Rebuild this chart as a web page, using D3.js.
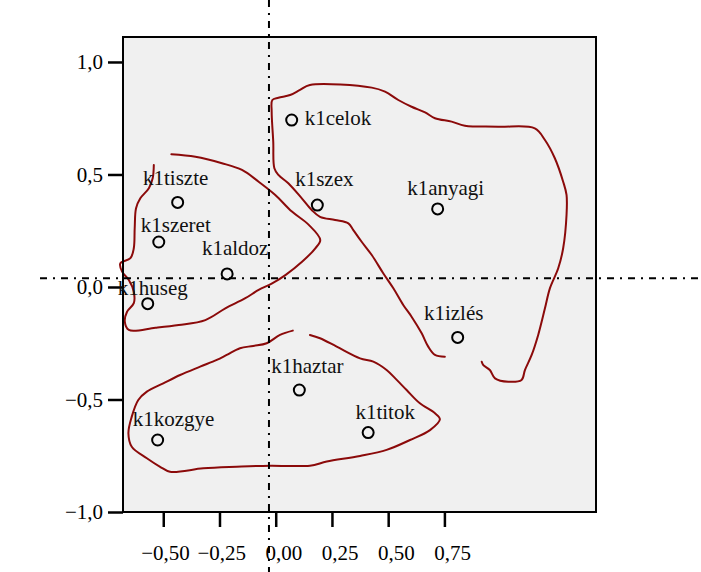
<!DOCTYPE html>
<html>
<head>
<meta charset="utf-8">
<script src="https://cdn.jsdelivr.net/npm/d3@7"></script>
<style>
  html, body { margin: 0; padding: 0; background: #fff; }
  svg { display: block; }
  text { font-family: "Liberation Serif", "Times New Roman", serif; }
</style>
</head>
<body>
<svg id="chart" width="701" height="572"></svg>
<script>
// Variable names and their two-dimensional coordinates
const labels = ["k1celok", "k1szex", "k1anyagi", "k1izlés", "k1haztar", "k1titok",
                "k1kozgye", "k1tiszte", "k1szeret", "k1aldoz", "k1huseg"];
const dim1 = [0.071, 0.185, 0.720, 0.809, 0.105, 0.411, -0.525, -0.436, -0.520, -0.216, -0.569];
const dim2 = [0.742, 0.364, 0.347, -0.224, -0.458, -0.647, -0.680, 0.376, 0.200, 0.058, -0.074];

// Axis ticks
const xTicks = [-0.50, -0.25, 0.00, 0.25, 0.50, 0.75];
const xTickLabels = ["\u22120,50", "\u22120,25", "0,00", "0,25", "0,50", "0,75"];
const yTicks = [1.0, 0.5, 0.0, -0.5, -1.0];
const yTickLabels = ["1,0", "0,5", "0,0", "\u22120,5", "\u22121,0"];

// Reference lines (dash-dot)
const refX = -0.030;
const refY = 0.039;

// Hand-drawn group outlines, as [dim1, dim2] pairs
const groupRight = [
  [0.752, -0.310], [0.708, -0.302], [0.678, -0.265], [0.649, -0.206], [0.604, -0.132],
  [0.567, -0.080], [0.523, -0.006], [0.478, 0.061], [0.427, 0.142], [0.382, 0.201],
  [0.345, 0.253], [0.323, 0.283], [0.264, 0.298], [0.197, 0.312], [0.160, 0.342],
  [0.116, 0.394], [0.056, 0.461], [0.012, 0.498], [-0.006, 0.528], [-0.011, 0.646],
  [-0.018, 0.779], [-0.015, 0.831], [0.012, 0.841], [0.064, 0.853], [0.108, 0.876],
  [0.152, 0.898], [0.427, 0.886], [0.486, 0.868], [0.545, 0.831], [0.604, 0.801],
  [0.664, 0.776], [0.708, 0.750], [0.782, 0.735], [0.841, 0.717], [0.989, 0.712],
  [1.152, 0.705], [1.197, 0.653], [1.241, 0.572], [1.278, 0.468], [1.293, 0.409],
  [1.293, 0.320], [1.278, 0.172], [1.256, 0.083], [1.219, -0.006], [1.197, -0.095],
  [1.167, -0.213], [1.138, -0.302], [1.108, -0.369], [1.093, -0.413], [1.034, -0.421],
  [0.975, -0.406], [0.952, -0.369], [0.923, -0.347], [0.916, -0.332]
];
const groupUpperLeft = [
  [-0.464, 0.590], [-0.357, 0.579], [-0.239, 0.550], [-0.150, 0.520], [-0.076, 0.468],
  [-0.002, 0.409], [0.072, 0.335], [0.147, 0.276], [0.198, 0.209], [0.176, 0.172],
  [0.117, 0.112], [0.043, 0.053], [-0.016, 0.016], [-0.076, -0.013], [-0.135, -0.050],
  [-0.224, -0.095], [-0.313, -0.147], [-0.431, -0.169], [-0.535, -0.181], [-0.653, -0.191],
  [-0.671, -0.154], [-0.661, -0.110], [-0.631, -0.072], [-0.631, -0.021], [-0.653, 0.031],
  [-0.683, 0.068], [-0.691, 0.105], [-0.646, 0.128], [-0.631, 0.172], [-0.627, 0.261],
  [-0.621, 0.350], [-0.602, 0.394], [-0.564, 0.439], [-0.547, 0.483], [-0.542, 0.542]
];
const groupLower = [
  [0.076, -0.194], [0.019, -0.213], [-0.040, -0.250], [-0.100, -0.262], [-0.159, -0.272],
  [-0.218, -0.302], [-0.262, -0.324], [-0.336, -0.354], [-0.425, -0.391], [-0.500, -0.428],
  [-0.573, -0.465], [-0.611, -0.502], [-0.640, -0.576], [-0.655, -0.650], [-0.640, -0.710],
  [-0.573, -0.761], [-0.514, -0.799], [-0.470, -0.821], [-0.322, -0.806], [-0.173, -0.799],
  [-0.025, -0.794], [0.152, -0.794], [0.227, -0.776], [0.375, -0.751], [0.493, -0.724],
  [0.597, -0.680], [0.686, -0.636], [0.730, -0.588], [0.708, -0.561], [0.641, -0.517],
  [0.582, -0.458], [0.538, -0.413], [0.493, -0.369], [0.434, -0.332], [0.375, -0.317],
  [0.271, -0.265], [0.197, -0.228], [0.152, -0.213]
];

// Label placement relative to each marker (pixels)
const labelLayout = {
  "k1celok":  { dx: 13, dy: 5,   anchor: "start" },
  "k1szex":   { dx: 7,  dy: -19, anchor: "middle" },
  "k1anyagi": { dx: 8,  dy: -14, anchor: "middle" },
  "k1izlés":  { dx: -4, dy: -17, anchor: "middle" },
  "k1haztar": { dx: 8,  dy: -17, anchor: "middle" },
  "k1titok":  { dx: 17, dy: -14, anchor: "middle" },
  "k1kozgye": { dx: 16, dy: -14, anchor: "middle" },
  "k1tiszte": { dx: -2, dy: -17, anchor: "middle" },
  "k1szeret": { dx: 17, dy: -10, anchor: "middle" },
  "k1aldoz":  { dx: 8,  dy: -19, anchor: "middle" },
  "k1huseg":  { dx: 5,  dy: -9,  anchor: "middle" }
};

const W = 701, H = 572;
const plot = { left: 123, right: 596, top: 37, bottom: 512 };

const x = d3.scaleLinear().domain([-0.679, 1.424]).range([plot.left, plot.right]);
const y = d3.scaleLinear().domain([-1.0, 1.111]).range([plot.bottom, plot.top]);

const svg = d3.select("#chart");

// Plot background
svg.append("rect")
  .attr("x", plot.left).attr("y", plot.top)
  .attr("width", plot.right - plot.left).attr("height", plot.bottom - plot.top)
  .attr("fill", "#f0f0f0");

// Group outlines
const line = d3.line()
  .x(d => x(d[0])).y(d => y(d[1]))
  .curve(d3.curveCatmullRom.alpha(0.5));
[groupRight, groupUpperLeft, groupLower].forEach(g => {
  svg.append("path")
    .attr("d", line(g))
    .attr("fill", "none")
    .attr("stroke", "#8b0a0a")
    .attr("stroke-width", 2)
    .attr("stroke-linejoin", "round")
    .attr("stroke-linecap", "round");
});

// Frame
svg.append("rect")
  .attr("x", plot.left).attr("y", plot.top)
  .attr("width", plot.right - plot.left).attr("height", plot.bottom - plot.top)
  .attr("fill", "none")
  .attr("stroke", "#000")
  .attr("stroke-width", 2);

// Axes
const yAxis = d3.axisLeft(y)
  .tickValues(yTicks)
  .tickSize(15)
  .tickPadding(5)
  .tickFormat((d, i) => yTickLabels[i]);
const gy = svg.append("g").attr("transform", `translate(${plot.left},0)`).call(yAxis);

const xAxis = d3.axisBottom(x)
  .tickValues(xTicks)
  .tickSize(15)
  .tickFormat((d, i) => xTickLabels[i]);
const gx = svg.append("g").attr("transform", `translate(0,${plot.bottom})`).call(xAxis);

[gx, gy].forEach(g => {
  g.select(".domain").remove();
  g.selectAll(".tick line").attr("stroke", "#000").attr("stroke-width", 2.5);
  g.selectAll(".tick text")
    .attr("fill", "#000")
    .style("font-size", "21px")
    .style("font-family", "'Liberation Serif', 'Times New Roman', serif");
});
gx.selectAll(".tick text")
  .attr("text-anchor", "end")
  .attr("x", 26)
  .attr("y", 33);

// Dash-dot reference lines
svg.append("line")
  .attr("x1", x(refX)).attr("x2", x(refX))
  .attr("y1", 0).attr("y2", H)
  .attr("stroke", "#000").attr("stroke-width", 2)
  .attr("stroke-dasharray", "7,6,2,6");
svg.append("line")
  .attr("x1", 40).attr("x2", W)
  .attr("y1", y(refY)).attr("y2", y(refY))
  .attr("stroke", "#000").attr("stroke-width", 2)
  .attr("stroke-dasharray", "7,6,2,6");

// Markers and labels
const pts = labels.map((name, i) => ({ name, a: dim1[i], b: dim2[i] }));
svg.append("g").selectAll("circle")
  .data(pts).join("circle")
  .attr("cx", d => x(d.a)).attr("cy", d => y(d.b))
  .attr("r", 5.5)
  .attr("fill", "none")
  .attr("stroke", "#000")
  .attr("stroke-width", 2);

svg.append("g").selectAll("text")
  .data(pts).join("text")
  .attr("x", d => x(d.a) + labelLayout[d.name].dx)
  .attr("y", d => y(d.b) + labelLayout[d.name].dy)
  .attr("text-anchor", d => labelLayout[d.name].anchor)
  .attr("fill", "#111")
  .style("font-size", "21px")
  .text(d => d.name);
</script>
</body>
</html>
